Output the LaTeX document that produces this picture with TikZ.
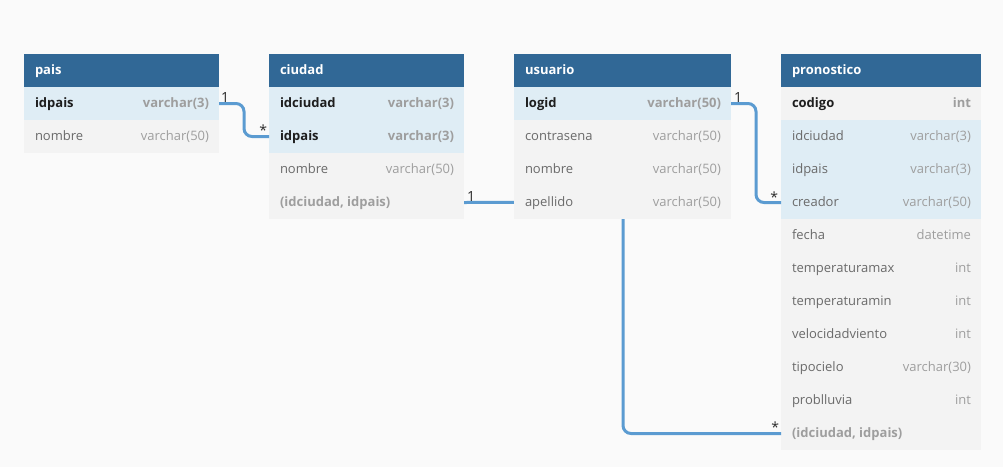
\documentclass[tikz,border=0pt]{standalone}
\usepackage{fontspec}
\setmainfont{Open Sans}
\definecolor{canvas}{HTML}{FAFAFA}
\definecolor{headblue}{HTML}{316896}
\definecolor{keyrow}{HTML}{DFEDF5}
\definecolor{plainrow}{HTML}{F3F3F3}
\definecolor{linkblue}{HTML}{5B9BD1}
\definecolor{keytext}{HTML}{1E1E1E}
\definecolor{fieldtext}{HTML}{6A6A6A}
\definecolor{typetext}{HTML}{9E9E9E}
\definecolor{cardtext}{HTML}{2A2A2A}
\tikzset{
  x=1pt, y=-1pt,
  rowbox/.style={rectangle, inner sep=0pt, outer sep=0pt, minimum height=33pt, draw=none},
  keyfill/.style={fill=keyrow},
  plainfill/.style={fill=plainrow},
  headfill/.style={fill=headblue},
  txt/.style={inner sep=0pt, outer sep=0pt, font=\fontsize{13}{15}\selectfont},
  headtxt/.style={txt, text=white, font=\fontsize{13}{15}\selectfont\bfseries},
  keyname/.style={txt, text=keytext, font=\fontsize{13}{15}\selectfont\bfseries},
  keytype/.style={txt, text=typetext, font=\fontsize{13}{15}\selectfont\bfseries},
  plainname/.style={txt, text=fieldtext},
  plaintype/.style={txt, text=typetext},
  compname/.style={txt, text=typetext, font=\fontsize{13}{15}\selectfont\bfseries},
  link/.style={draw=linkblue, line width=3pt, rounded corners=8pt},
  card/.style={txt, text=cardtext, font=\fontsize{14}{16}\selectfont},
}
% one table row: name, x, top y, width, fill, name style, field, type style, type
\newcommand\tabrow[9]{%
  \node[rowbox,#5,minimum width=#4,anchor=north west] (#1) at (#2,#3) {};
  \node[#6,anchor=base west] (#1-f) at (#1.north west) [xshift=11pt,yshift=-20pt] {#7};
  \node[#8,anchor=base east] (#1-t) at (#1.north east) [xshift=-10pt,yshift=-20pt] {#9};
}
\newcommand\tabhead[5]{%
  \node[rowbox,headfill,minimum width=#4,anchor=north west] (#1) at (#2,#3) {};
  \node[headtxt,anchor=base west] (#1-h) at (#1.north west) [xshift=11pt,yshift=-20pt] {#5};
}
\begin{document}
\begin{tikzpicture}
\fill[canvas] (0,0) rectangle (1003,467);
\useasboundingbox (0,0) rectangle (1003,467);

% bend point of the composite link, which runs behind usuario
\coordinate (cdrop) at (623,202);

% ---- pais
\tabhead{pais}{24}{54}{195pt}{pais}
\tabrow{pais-idpais}{24}{87}{195pt}{keyfill}{keyname}{idpais}{keytype}{varchar(3)}
\tabrow{pais-nombre}{24}{120}{195pt}{plainfill}{plainname}{nombre}{plaintype}{varchar(50)}

% ---- ciudad
\tabhead{ciudad}{269}{54}{195pt}{ciudad}
\tabrow{ciudad-idciudad}{269}{87}{195pt}{keyfill}{keyname}{idciudad}{keytype}{varchar(3)}
\tabrow{ciudad-idpais}{269}{120}{195pt}{keyfill}{keyname}{idpais}{keytype}{varchar(3)}
\tabrow{ciudad-nombre}{269}{153}{195pt}{plainfill}{plainname}{nombre}{plaintype}{varchar(50)}
\tabrow{ciudad-comp}{269}{186}{195pt}{plainfill}{compname}{(idciudad, idpais)}{plaintype}{}

% ---- pronostico
\tabhead{pronostico}{781}{54}{200pt}{pronostico}
\tabrow{pr-codigo}{781}{87}{200pt}{plainfill}{keyname}{codigo}{keytype}{int}
\tabrow{pr-idciudad}{781}{120}{200pt}{keyfill}{plainname}{idciudad}{plaintype}{varchar(3)}
\tabrow{pr-idpais}{781}{153}{200pt}{keyfill}{plainname}{idpais}{plaintype}{varchar(3)}
\tabrow{pr-creador}{781}{186}{200pt}{keyfill}{plainname}{creador}{plaintype}{varchar(50)}
\tabrow{pr-fecha}{781}{219}{200pt}{plainfill}{plainname}{fecha}{plaintype}{datetime}
\tabrow{pr-tmax}{781}{252}{200pt}{plainfill}{plainname}{temperaturamax}{plaintype}{int}
\tabrow{pr-tmin}{781}{285}{200pt}{plainfill}{plainname}{temperaturamin}{plaintype}{int}
\tabrow{pr-viento}{781}{318}{200pt}{plainfill}{plainname}{velocidadviento}{plaintype}{int}
\tabrow{pr-cielo}{781}{351}{200pt}{plainfill}{plainname}{tipocielo}{plaintype}{varchar(30)}
\tabrow{pr-lluvia}{781}{384}{200pt}{plainfill}{plainname}{problluvia}{plaintype}{int}
\tabrow{pr-comp}{781}{417}{200pt}{plainfill}{compname}{(idciudad, idpais)}{plaintype}{}

% composite key link ciudad -> pronostico (drawn before usuario covers it)
\draw[link] (ciudad-comp.east) -- (cdrop) |- (pr-comp.west);

% ---- usuario
\tabhead{usuario}{514}{54}{217pt}{usuario}
\tabrow{us-logid}{514}{87}{217pt}{keyfill}{keyname}{logid}{keytype}{varchar(50)}
\tabrow{us-contrasena}{514}{120}{217pt}{plainfill}{plainname}{contrasena}{plaintype}{varchar(50)}
\tabrow{us-nombre}{514}{153}{217pt}{plainfill}{plainname}{nombre}{plaintype}{varchar(50)}
\tabrow{us-apellido}{514}{186}{217pt}{plainfill}{plainname}{apellido}{plaintype}{varchar(50)}

% remaining links
\draw[link] (pais-idpais.east) -- ++(25,0) |- (ciudad-idpais.west);
\draw[link] (us-logid.east) -- ++(25,0) |- (pr-creador.west);

% cardinalities
\node[card,anchor=base west] (c1) at (pais-idpais.east) [xshift=2pt,yshift=1pt] {1};
\node[card,anchor=base east] (c2) at (ciudad-idpais.west) [xshift=-2pt,yshift=1pt] {*};
\node[card,anchor=base west] (c3) at (ciudad-comp.east) [xshift=3pt,yshift=1pt] {1};
\node[card,anchor=base east] (c4) at (pr-comp.west) [xshift=-2pt,yshift=1pt] {*};
\node[card,anchor=base west] (c5) at (us-logid.east) [xshift=3pt,yshift=1pt] {1};
\node[card,anchor=base east] (c6) at (pr-creador.west) [xshift=-3pt,yshift=0pt] {*};
\end{tikzpicture}
\end{document}
